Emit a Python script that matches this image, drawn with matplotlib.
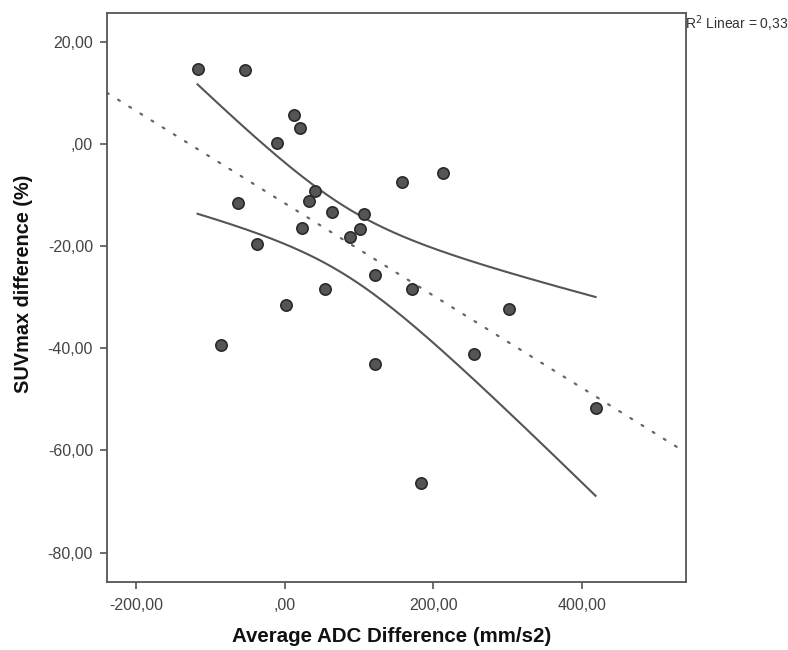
import numpy as np
import matplotlib
matplotlib.use("Agg")
import matplotlib.pyplot as plt
from matplotlib.ticker import FuncFormatter

adc_diff = [-117.1, -53.4, 12.5, 20.6, -10.8, 40.8, 32.7, -63.3, 63.3, 107.2,
            23.3, 101.8, 87.5, -37.7, 121.5, 54.2, 2.2, 158.0, 213.0, 170.9,
            301.9, -85.7, 121.5, 254.8, 418.6, 183.0]
suv_diff = [14.7, 14.5, 5.7, 3.05, 0.1, -9.3, -11.2, -11.6, -13.4, -13.8,
            -16.5, -16.6, -18.2, -19.6, -25.6, -28.5, -31.6, -7.5, -5.75, -28.5,
            -32.4, -39.3, -43.1, -41.2, -51.7, -66.3]
x_ticks = [-200, 0, 200, 400]
y_ticks = [20, 0, -20, -40, -60, -80]
r2_label = "R$^2$ Linear = 0,33"

plt.rcParams['font.family'] = ['Liberation Sans', 'DejaVu Sans']

x = np.array(adc_diff)
y = np.array(suv_diff)
n = len(x)
slope, intercept = np.polyfit(x, y, 1)
resid = y - (slope * x + intercept)
s = np.sqrt(np.sum(resid ** 2) / (n - 2))
sxx = np.sum((x - x.mean()) ** 2)
t_crit = 2.064

fig = plt.figure(figsize=(7.88, 6.5), dpi=100)
ax = fig.add_axes([0.1358, 0.1051, 0.7344, 0.8749])
xlim = (-239, 540)
ylim = (-85.7, 25.6)
ax.set_xlim(*xlim)
ax.set_ylim(*ylim)

# regression line (dotted)
xl = np.linspace(xlim[0], xlim[1], 200)
ax.plot(xl, slope * xl + intercept, color='#666666', lw=1.6,
        linestyle=(0, (0.9, 5.0)), dash_capstyle='round', zorder=2)

# 95% CI of mean
xc = np.linspace(x.min(), x.max(), 200)
yc = slope * xc + intercept
half = t_crit * s * np.sqrt(1.0 / n + (xc - x.mean()) ** 2 / sxx)
ax.plot(xc, yc + half, color='#555555', lw=1.5, zorder=2)
ax.plot(xc, yc - half, color='#555555', lw=1.5, zorder=2)

ax.scatter(x, y, s=66, facecolor='#555555', edgecolor='#2a2a2a', linewidth=1.2, zorder=3)

def fmt(v, pos=None):
    if abs(v) < 1e-9:
        return ",00"
    return f"{v:.2f}".replace('.', ',')

ax.set_xticks(x_ticks)
ax.set_yticks(y_ticks)
ax.xaxis.set_major_formatter(FuncFormatter(fmt))
ax.yaxis.set_major_formatter(FuncFormatter(fmt))
ax.tick_params(direction='out', length=5, width=1.2, color='#555555',
               labelsize=11.5, labelcolor='#444444', pad=5)
ax.tick_params(axis='x', pad=7)

for sp in ax.spines.values():
    sp.set_color('#555555')
    sp.set_linewidth(1.3)

ax.set_xlabel("Average ADC Difference (mm/s2)", fontsize=14.8, fontweight='bold', color='#111111')
ax.set_ylabel("SUVmax difference (%)", fontsize=14.3, fontweight='bold', color='#111111')
ax.xaxis.set_label_coords(0.491, -0.080)
ax.yaxis.set_label_coords(-0.128, 0.5235)

fig.text(685 / 788, 1 - 24 / 650, r2_label, fontsize=10, color='#333333',
         ha='left', va='center')

fig.savefig("out.png", dpi=100)
